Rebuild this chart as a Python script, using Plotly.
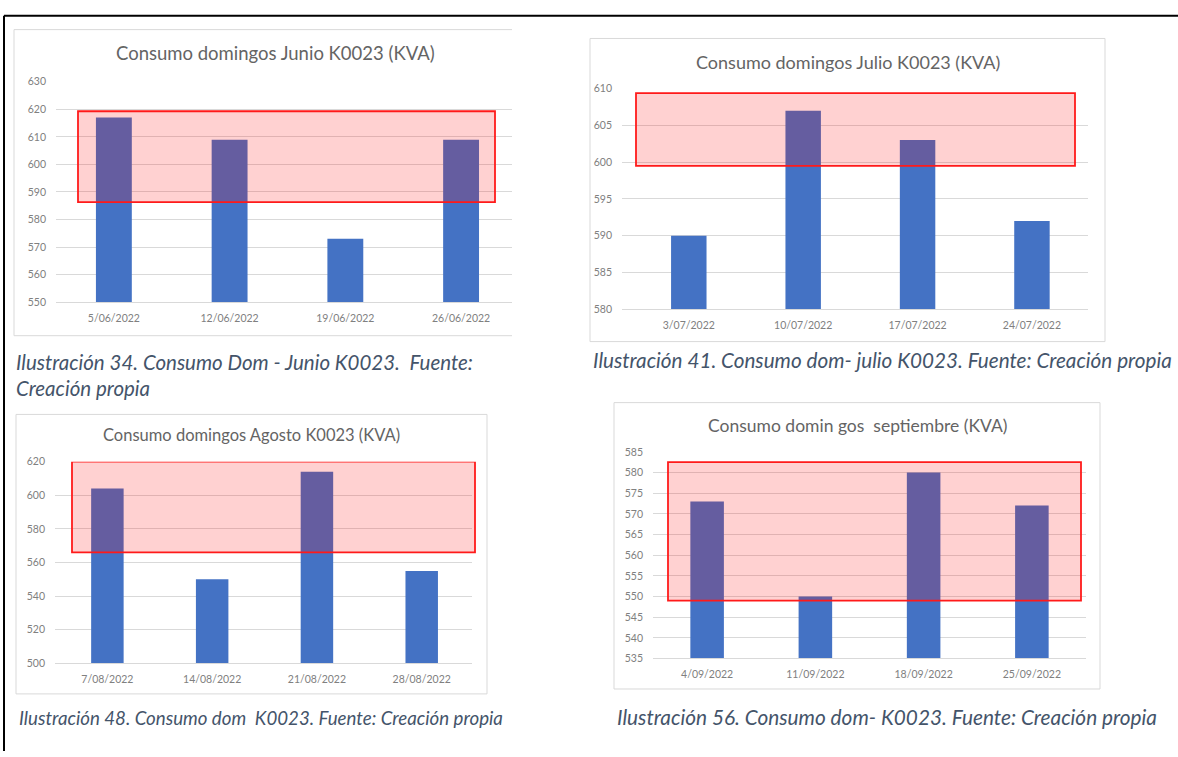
import plotly.graph_objects as go

# ---- data -------------------------------------------------------------
fechas_junio = ["5/06/2022", "12/06/2022", "19/06/2022", "26/06/2022"]
kva_junio = [617, 609, 573, 609]

fechas_julio = ["3/07/2022", "10/07/2022", "17/07/2022", "24/07/2022"]
kva_julio = [590, 607, 603, 592]

fechas_agosto = ["7/08/2022", "14/08/2022", "21/08/2022", "28/08/2022"]
kva_agosto = [604, 550, 614, 555]

fechas_septiembre = ["4/09/2022", "11/09/2022", "18/09/2022", "25/09/2022"]
kva_septiembre = [573, 550, 580, 572]

# y-axis scales (min, max, step)
escala_junio = (550, 630, 10)
escala_julio = (580, 610, 5)
escala_agosto = (500, 620, 20)
escala_septiembre = (535, 585, 5)

# highlighted consumption band (KVA) per month
banda_junio = (586.3, 619.3)
banda_julio = (599.5, 609.4)
banda_agosto = (566.1, 620.0)
banda_septiembre = (549.0, 582.5)

titulos = [
    "Consumo domingos Junio K0023 (KVA)",
    "Consumo domingos Julio K0023 (KVA)",
    "Consumo domingos Agosto K0023 (KVA)",
    "Consumo domin gos \u00a0septiembre (KVA)",
]
pies = [
    ["Ilustración 34. Consumo Dom - Junio K0023. \u00a0Fuente:", "Creación propia"],
    ["Ilustración 41. Consumo dom- julio K0023. Fuente: Creación propia"],
    ["Ilustración 48. Consumo dom \u00a0K0023. Fuente: Creación propia"],
    ["Ilustración 56. Consumo dom- K0023. Fuente: Creación propia"],
]

# ---- page geometry (pixels) ------------------------------------------
W, H = 1178, 757


def px(x):
    return x / W


def py(y):
    return 1 - y / H


BAR = "#4472C4"
GRID = "#d9d9d9"
TICK = "#808080"
TITLE = "#646464"
CAPTION = "#44546A"
FONT = "Lato"

paneles = [
    dict(cats=fechas_junio, vals=kva_junio, esc=escala_junio, banda=banda_junio,
         plot=(56, 512, 77, 301), xr=(-0.5, 3.44), box=(14, 512, 24, 335, False),
         title=(275, 48, 18.5), band_x=(78, 495), caption=(14, [362, 388], 20.5)),
    dict(cats=fechas_julio, vals=kva_julio, esc=escala_julio, banda=banda_julio,
         plot=(622, 1088, 84, 308), xr=(-0.584, 3.49), box=(590, 1105, 33, 341, True),
         title=(848, 57, 18), band_x=(636, 1075), caption=(591, [360], 20.7)),
    dict(cats=fechas_agosto, vals=kva_agosto, esc=escala_agosto, banda=banda_agosto,
         plot=(55, 472, 463, 668), xr=(-0.5, 3.48), box=(16, 487, 415, 699, True),
         title=(251, 436, 16.5), band_x=(72, 475), caption=(17, [723], 18.7)),
    dict(cats=fechas_septiembre, vals=kva_septiembre, esc=escala_septiembre,
         banda=banda_septiembre,
         plot=(653, 1086, 453, 663), xr=(-0.5, 3.5), box=(614, 1100, 403, 694, True),
         title=(857, 426, 17.5), band_x=(668, 1081), caption=(615, [722], 20.8)),
]

fig = go.Figure()
shapes = []
annotations = []
layout_axes = {}

for i, p in enumerate(paneles, start=1):
    sfx = "" if i == 1 else str(i)
    x0, x1, ytop, ybot = p["plot"]
    lo, hi, step = p["esc"]

    fig.add_trace(go.Bar(
        x=p["cats"], y=p["vals"], xaxis="x" + sfx, yaxis="y" + sfx,
        marker=dict(color=BAR, line=dict(width=0)), width=0.31,
        showlegend=False, hoverinfo="x+y",
    ))

    layout_axes["xaxis" + sfx] = dict(
        domain=[px(x0), px(x1)], anchor="y" + sfx, range=list(p["xr"]),
        type="category", showgrid=False, zeroline=False,
        showline=True, linecolor=GRID, linewidth=1,
        ticks="", ticklabelstandoff=6,
        tickfont=dict(family=FONT, size=10.5, color=TICK), fixedrange=True,
    )
    layout_axes["yaxis" + sfx] = dict(
        domain=[py(ybot), py(ytop)], anchor="x" + sfx, range=[lo, hi],
        tick0=lo, dtick=step, showgrid=True, gridcolor=GRID, gridwidth=1,
        zeroline=False, showline=False, ticks="", ticklabelstandoff=9,
        tickfont=dict(family=FONT, size=10.5, color=TICK), fixedrange=True,
    )

    # chart frame
    bx0, bx1, by0, by1, right = p["box"]
    if right:
        shapes.append(dict(type="rect", xref="paper", yref="paper",
                           x0=px(bx0), x1=px(bx1), y0=py(by1), y1=py(by0),
                           line=dict(color=GRID, width=1), layer="below"))
    else:
        path = (f"M{px(bx1)},{py(by0)} L{px(bx0)},{py(by0)} "
                f"L{px(bx0)},{py(by1)} L{px(bx1)},{py(by1)}")
        shapes.append(dict(type="path", xref="paper", yref="paper", path=path,
                           line=dict(color=GRID, width=1), layer="below"))

    # highlighted band
    b0, b1 = p["banda"]
    hx0, hx1 = p["band_x"]
    shapes.append(dict(type="rect", xref="paper", yref="y" + sfx,
                       x0=px(hx0), x1=px(hx1), y0=b0, y1=b1,
                       fillcolor="rgba(255,0,0,0.18)",
                       line=dict(color="#ff1a1a", width=1.8), layer="above"))

    # chart title
    tx, ty, tsize = p["title"]
    annotations.append(dict(text=titulos[i - 1], xref="paper", yref="paper",
                            x=px(tx), y=py(ty), xanchor="center", yanchor="middle",
                            showarrow=False,
                            font=dict(family=FONT, size=tsize, color=TITLE)))

    # caption lines
    cx, cys, csize = p["caption"]
    for line, cy in zip(pies[i - 1], cys):
        annotations.append(dict(text=line, xref="paper", yref="paper",
                                x=px(cx), y=py(cy), xanchor="left", yanchor="middle",
                                showarrow=False,
                                font=dict(family=FONT, size=csize, color=CAPTION,
                                          style="italic")))

# outer page frame (top and left edges)
shapes.append(dict(type="line", xref="paper", yref="paper",
                   x0=px(4), x1=1, y0=py(10), y1=py(10),
                   line=dict(color="black", width=2)))
shapes.append(dict(type="line", xref="paper", yref="paper",
                   x0=px(4), x1=px(4), y0=py(10), y1=0,
                   line=dict(color="black", width=2)))

fig.update_layout(
    width=W, height=H, margin=dict(l=0, r=0, t=0, b=0),
    paper_bgcolor="white", plot_bgcolor="white",
    shapes=shapes, annotations=annotations, **layout_axes,
)

fig.write_html("out.html")
